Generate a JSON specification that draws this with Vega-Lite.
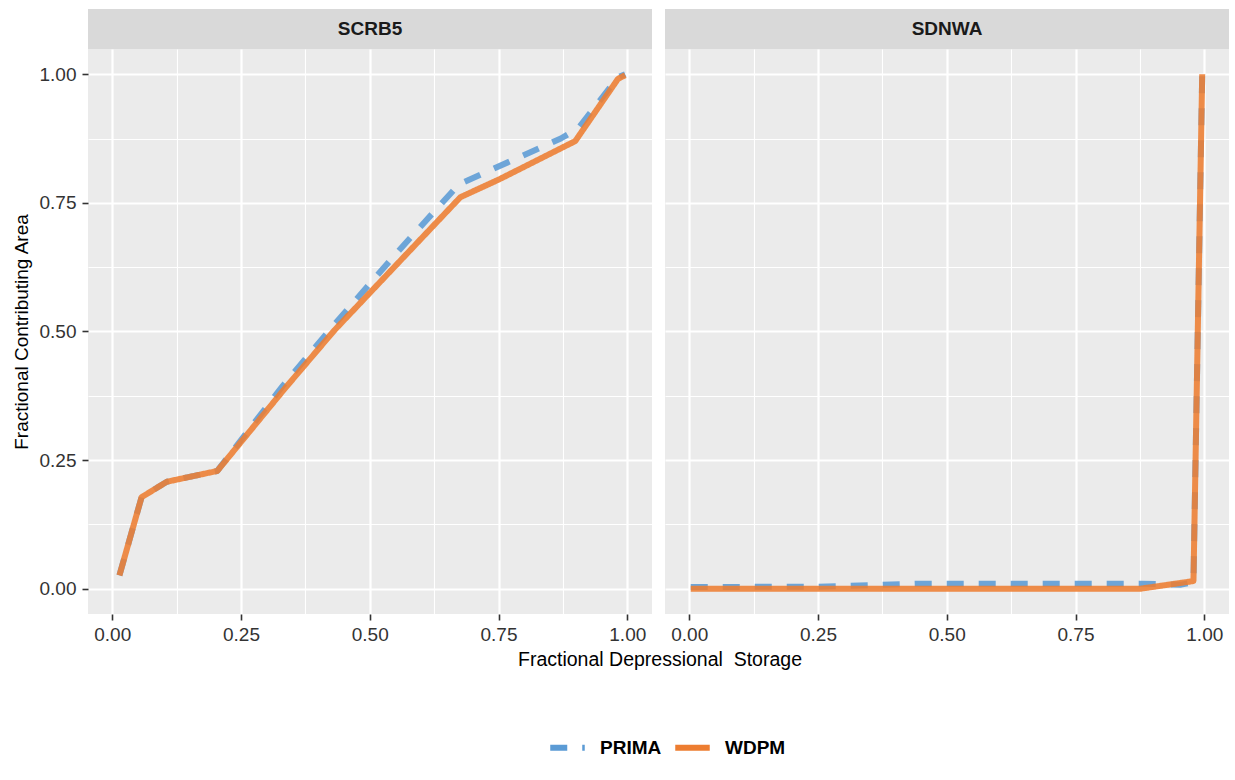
{
  "$schema": "https://vega.github.io/schema/vega-lite/v6.json",
  "background": "white",
  "padding": {"left": 12, "top": 9, "right": 0, "bottom": 0},
  "bounds": "flush",
  "columns": 2,
  "spacing": {"row": 0, "column": 13},
  "datasets": {
    "curves": [
      {"panel": "SCRB5", "model": "PRIMA", "order": 1, "storage": 0.014, "area": 0.026},
      {"panel": "SCRB5", "model": "PRIMA", "order": 2, "storage": 0.057, "area": 0.178},
      {"panel": "SCRB5", "model": "PRIMA", "order": 3, "storage": 0.106, "area": 0.208},
      {"panel": "SCRB5", "model": "PRIMA", "order": 4, "storage": 0.204, "area": 0.229},
      {"panel": "SCRB5", "model": "PRIMA", "order": 5, "storage": 0.33, "area": 0.393},
      {"panel": "SCRB5", "model": "PRIMA", "order": 6, "storage": 0.43, "area": 0.512},
      {"panel": "SCRB5", "model": "PRIMA", "order": 7, "storage": 0.55, "area": 0.65},
      {"panel": "SCRB5", "model": "PRIMA", "order": 8, "storage": 0.673, "area": 0.786},
      {"panel": "SCRB5", "model": "PRIMA", "order": 9, "storage": 0.871, "area": 0.875},
      {"panel": "SCRB5", "model": "PRIMA", "order": 10, "storage": 0.905, "area": 0.895},
      {"panel": "SCRB5", "model": "PRIMA", "order": 11, "storage": 0.982, "area": 0.994},
      {"panel": "SCRB5", "model": "PRIMA", "order": 12, "storage": 0.996, "area": 1.0},
      {"panel": "SCRB5", "model": "WDPM", "order": 1, "storage": 0.014, "area": 0.026},
      {"panel": "SCRB5", "model": "WDPM", "order": 2, "storage": 0.057, "area": 0.178},
      {"panel": "SCRB5", "model": "WDPM", "order": 3, "storage": 0.106, "area": 0.208},
      {"panel": "SCRB5", "model": "WDPM", "order": 4, "storage": 0.204, "area": 0.229},
      {"panel": "SCRB5", "model": "WDPM", "order": 5, "storage": 0.335, "area": 0.389},
      {"panel": "SCRB5", "model": "WDPM", "order": 6, "storage": 0.432, "area": 0.503},
      {"panel": "SCRB5", "model": "WDPM", "order": 7, "storage": 0.676, "area": 0.761},
      {"panel": "SCRB5", "model": "WDPM", "order": 8, "storage": 0.752, "area": 0.796},
      {"panel": "SCRB5", "model": "WDPM", "order": 9, "storage": 0.899, "area": 0.87},
      {"panel": "SCRB5", "model": "WDPM", "order": 10, "storage": 0.982, "area": 0.991},
      {"panel": "SCRB5", "model": "WDPM", "order": 11, "storage": 0.996, "area": 0.998},
      {"panel": "SDNWA", "model": "PRIMA", "order": 1, "storage": 0.003, "area": 0.0035},
      {"panel": "SDNWA", "model": "PRIMA", "order": 2, "storage": 0.25, "area": 0.004},
      {"panel": "SDNWA", "model": "PRIMA", "order": 3, "storage": 0.45, "area": 0.01},
      {"panel": "SDNWA", "model": "PRIMA", "order": 4, "storage": 0.88, "area": 0.01},
      {"panel": "SDNWA", "model": "PRIMA", "order": 5, "storage": 0.955, "area": 0.008},
      {"panel": "SDNWA", "model": "PRIMA", "order": 6, "storage": 0.979, "area": 0.013},
      {"panel": "SDNWA", "model": "PRIMA", "order": 7, "storage": 0.996, "area": 1.0},
      {"panel": "SDNWA", "model": "WDPM", "order": 1, "storage": 0.003, "area": 0.0},
      {"panel": "SDNWA", "model": "WDPM", "order": 2, "storage": 0.875, "area": 0.0},
      {"panel": "SDNWA", "model": "WDPM", "order": 3, "storage": 0.979, "area": 0.015},
      {"panel": "SDNWA", "model": "WDPM", "order": 4, "storage": 0.996, "area": 1.0}
    ],
    "strips": [{"panel": "SCRB5"}, {"panel": "SDNWA"}]
  },
  "concat": [
    {
      "width": 564,
      "height": 40,
      "view": {"fill": "#D9D9D9", "stroke": null},
      "data": {"name": "strips"},
      "transform": [{"filter": "datum.panel === 'SCRB5'"}],
      "mark": {"type": "text", "font": "Liberation Sans", "fontSize": 19, "fontWeight": "bold", "color": "#1A1A1A", "baseline": "middle", "align": "center"},
      "encoding": {"text": {"field": "panel"}}
    },
    {
      "width": 564,
      "height": 40,
      "view": {"fill": "#D9D9D9", "stroke": null},
      "data": {"name": "strips"},
      "transform": [{"filter": "datum.panel === 'SDNWA'"}],
      "mark": {"type": "text", "font": "Liberation Sans", "fontSize": 19, "fontWeight": "bold", "color": "#1A1A1A", "baseline": "middle", "align": "center"},
      "encoding": {"text": {"field": "panel"}}
    },
    {
      "width": 564,
      "height": 565,
      "view": {"fill": "#EBEBEB", "stroke": null},
      "data": {"name": "curves"},
      "transform": [{"filter": "datum.panel === 'SCRB5'"}],
      "mark": {"type": "line", "strokeWidth": 6, "strokeCap": "butt", "strokeJoin": "round", "strokeOpacity": 0.88},
      "encoding": {
        "x": {"field": "storage", "type": "quantitative", "scale": {"domain": [-0.047, 1.048], "nice": false, "zero": false},
              "axis": {"title": "Fractional Depressional\u00a0 Storage", "titleX": 571.5, "titleAlign": "center", "titleFontSize": 19.5,
                       "values": [0, 0.125, 0.25, 0.375, 0.5, 0.625, 0.75, 0.875, 1]}},
        "y": {"field": "area", "type": "quantitative", "scale": {"domain": [-0.049, 1.049], "nice": false, "zero": false},
              "axis": {"title": "Fractional Contributing Area", "values": [0, 0.125, 0.25, 0.375, 0.5, 0.625, 0.75, 0.875, 1]}},
        "color": {"field": "model", "type": "nominal", "scale": {"domain": ["PRIMA", "WDPM"], "range": ["#5B9BD5", "#ED7D31"]}, "legend": {"title": null}},
        "strokeDash": {"field": "model", "type": "nominal", "scale": {"domain": ["PRIMA", "WDPM"], "range": [[17, 15], [1, 0]]}, "legend": {"title": null}},
        "order": {"field": "order", "type": "quantitative"}
      }
    },
    {
      "width": 564,
      "height": 565,
      "view": {"fill": "#EBEBEB", "stroke": null},
      "data": {"name": "curves"},
      "transform": [{"filter": "datum.panel === 'SDNWA'"}],
      "mark": {"type": "line", "strokeWidth": 6, "strokeCap": "butt", "strokeJoin": "round", "strokeOpacity": 0.88},
      "encoding": {
        "x": {"field": "storage", "type": "quantitative", "scale": {"domain": [-0.047, 1.048], "nice": false, "zero": false},
              "axis": {"title": null, "values": [0, 0.125, 0.25, 0.375, 0.5, 0.625, 0.75, 0.875, 1]}},
        "y": {"field": "area", "type": "quantitative", "scale": {"domain": [-0.049, 1.049], "nice": false, "zero": false},
              "axis": {"title": null, "labels": false, "ticks": false, "values": [0, 0.125, 0.25, 0.375, 0.5, 0.625, 0.75, 0.875, 1]}},
        "color": {"field": "model", "type": "nominal", "scale": {"domain": ["PRIMA", "WDPM"], "range": ["#5B9BD5", "#ED7D31"]}, "legend": {"title": null}},
        "strokeDash": {"field": "model", "type": "nominal", "scale": {"domain": ["PRIMA", "WDPM"], "range": [[17, 15], [1, 0]]}, "legend": {"title": null}},
        "order": {"field": "order", "type": "quantitative"}
      }
    }
  ],
  "config": {
    "font": "Liberation Sans",
    "axis": {
      "domain": false,
      "labelExpr": "round(datum.value*8) % 2 === 0 ? format(datum.value, '.2f') : ''",
      "labelFont": "Liberation Sans",
      "labelFontSize": 19,
      "labelColor": "#333333",
      "labelPadding": 5,
      "tickSize": 6,
      "tickColor": {"condition": {"test": "round(datum.value*8) % 2 === 0", "value": "#333333"}, "value": "transparent"},
      "tickWidth": 1.6,
      "gridColor": "#FFFFFF",
      "gridOpacity": 1,
      "gridWidth": {"condition": {"test": "round(datum.value*8) % 2 === 0", "value": 2.2}, "value": 1.1},
      "titleFont": "Liberation Sans",
      "titleFontSize": 19,
      "titleFontWeight": "normal",
      "titleColor": "#000000",
      "labelOverlap": false,
      "labelFlush": false
    },
    "axisY": {"labelPadding": 6, "titlePadding": 8},
    "axisX": {"titlePadding": 6},
    "legend": {
      "orient": "none",
      "legendX": 459,
      "legendY": 718,
      "direction": "horizontal",
      "labelFont": "Liberation Sans",
      "labelFontSize": 19,
      "labelFontWeight": "bold",
      "labelColor": "#000000",
      "symbolType": "stroke",
      "symbolStrokeWidth": 6,
      "symbolSize": 1190,
      "labelOffset": 12,
      "columnPadding": 1
    }
  }
}
